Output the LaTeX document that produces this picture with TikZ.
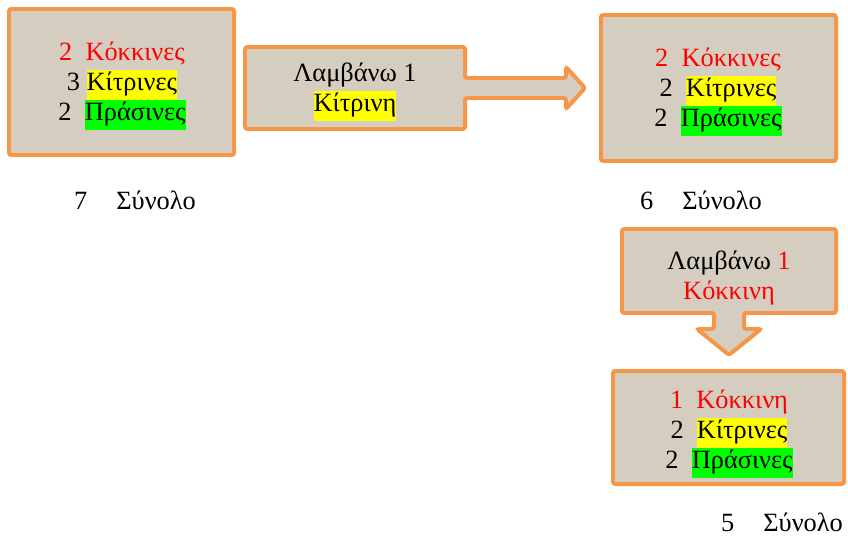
\documentclass[tikz,border=0pt]{standalone}
\usepackage{fontspec}
\setmainfont{Liberation Serif}
\usepackage{tikz}
\usepackage{xcolor}
\usetikzlibrary{backgrounds}
\definecolor{boxorange}{RGB}{247,150,70}
\definecolor{paper}{RGB}{213,206,192}
\definecolor{hlyellow}{RGB}{255,255,0}
\definecolor{hlgreen}{RGB}{0,255,0}
\newcommand{\hlbox}[2]{{\setlength{\fboxsep}{0pt}\colorbox{#1}{\strut #2}}}

\begin{document}
\begin{tikzpicture}[x=0.03cm, y=-0.03cm,
    card/.style={draw=boxorange, line width=3.4pt, fill=paper, rounded corners=2pt, outer sep=0pt},
    txt/.style={align=center, font=\fontsize{22.5}{25.6}\selectfont}]
    \useasboundingbox (0,0) rectangle (848,538);

    % marble boxes
    \node[card, minimum width=6.75cm, minimum height=4.38cm] at (121.5,82) (start) {};
    \node[card, minimum width=7.05cm, minimum height=4.38cm] at (718.5,88) (after1) {};
    \node[card, minimum width=6.93cm, minimum height=3.39cm] at (728.5,427.5) (after2) {};

    \node[txt] at (122,86) (startText)
        {{\color{red}2~~Κόκκινες}\\ 3 \hlbox{hlyellow}{Κίτρινες}\\ 2~~\hlbox{hlgreen}{Πράσινες}};
    \node[txt] at (718,92) (after1Text)
        {{\color{red}2~~Κόκκινες}\\ 2~~\hlbox{hlyellow}{Κίτρινες}\\ 2~~\hlbox{hlgreen}{Πράσινες}};
    \node[txt] at (729,434) (after2Text)
        {{\color{red}1~~Κόκκινη}\\ 2~~\hlbox{hlyellow}{Κίτρινες}\\ 2~~\hlbox{hlgreen}{Πράσινες}};

    % totals
    \node[txt, inner sep=0pt] at (135,200) (sum7) {7\hspace{1.1em}Σύνολο};
    \node[txt, inner sep=0pt] at (701,200) (sum6) {6\hspace{1.1em}Σύνολο};
    \node[txt, inner sep=0pt] at (782,522) (sum5) {5\hspace{1.1em}Σύνολο};

    % draw steps
    \node[card, draw=none, fill=none, minimum width=6.6cm, minimum height=2.46cm] at (355,88) (take1) {};
    \node[card, draw=none, fill=none, minimum width=6.42cm, minimum height=2.52cm] at (729,271) (take2) {};
    \node[txt] at (355,92) (take1Text) {Λαμβάνω 1\\ \hlbox{hlyellow}{Κίτρινη}};
    \node[txt] at (729,278) (take2Text) {Λαμβάνω {\color{red}1}\\ {\color{red}Κόκκινη}};

    \begin{scope}[on background layer]
        \draw[card] (take1.north west) -- (take1.north east) -- ++(0,31) -- ++(101,0) -- ++(0,-11)
            -- ++(19,21) -- ++(-19,21) -- ++(0,-11) -- ++(-101,0) -- (take1.south east)
            -- (take1.south west) -- cycle;
        \draw[card] (take2.north west) -- (take2.north east) -- (take2.south east) -- ++(-92,0)
            -- ++(0,16) -- ++(17,0) -- ++(-32,26) -- ++(-32,-26) -- ++(17,0) -- ++(0,-16)
            -- (take2.south west) -- cycle;
    \end{scope}
\end{tikzpicture}
\end{document}
